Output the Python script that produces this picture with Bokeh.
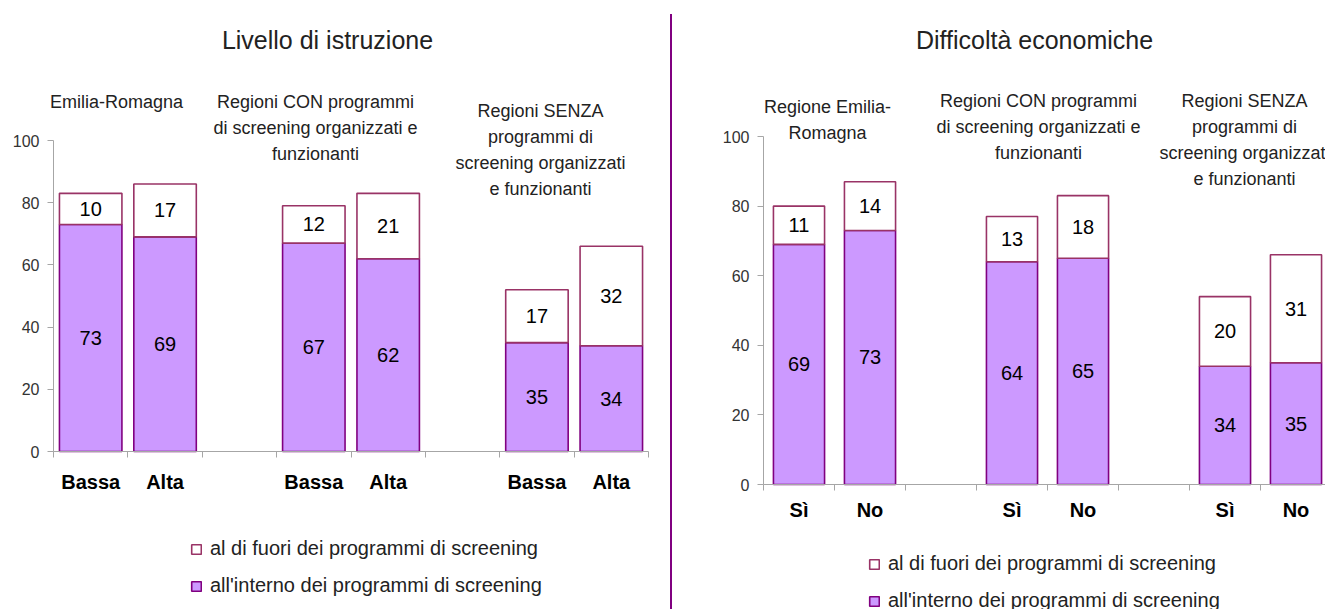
from bokeh.plotting import figure
from bokeh.models import (ColumnDataSource, Range1d, FixedTicker, LabelSet, Label,
                          Legend, LegendItem, Div, LinearAxis)
from bokeh.layouts import row
from bokeh.embed import file_html
from bokeh.resources import INLINE
from bokeh.core.properties import value

# ---------------- data ----------------
edu_cats = ["Bassa", "Alta", "Bassa", "Alta", "Bassa", "Alta"]
edu_inside = [73, 69, 67, 62, 35, 34]
edu_outside = [10, 17, 12, 21, 17, 32]

eco_cats = ["Sì", "No", "Sì", "No", "Sì", "No"]
eco_inside = [69, 73, 64, 65, 34, 35]
eco_outside = [11, 14, 13, 18, 20, 31]

y_ticks = [0, 20, 40, 60, 80, 100]
legend_labels = ["al di fuori dei programmi di screening",
                 "all'interno dei programmi di screening"]

edu_title = "Livello di istruzione"
eco_title = "Difficoltà economiche"
edu_groups = [["Emilia-Romagna"],
              ["Regioni CON programmi", "di screening organizzati e", "funzionanti"],
              ["Regioni SENZA", "programmi di", "screening organizzati", "e funzionanti"]]
eco_groups = [["Regione Emilia-", "Romagna"],
              ["Regioni CON programmi", "di screening organizzati e", "funzionanti"],
              ["Regioni SENZA", "programmi di", "screening organizzati", "e funzionanti"]]

FONT = "Liberation Sans"
TXT = "#222222"
IN_FILL, IN_LINE = "#CC99FF", "#800080"
OUT_FILL, OUT_LINE = "#FFFFFF", "#993366"
AX = "#a6a6a6"
H = 609


def slots(n):
    # two bars per group, one empty slot between groups
    return [3 * (i // 2) + i % 2 + 0.5 for i in range(n)]


def make_chart(cats, vin, vout, width, x0, xu, y0, yu, bar_w, title, title_px,
               groups, group_px, legend_px, cat_standoff):
    # x0/y0: pixel of data origin inside the canvas, xu/yu: pixels per unit
    def dx(px):
        return (px - x0) / xu

    def dy(py):
        return (y0 - py) / yu

    p = figure(width=width, height=H, output_backend="svg", toolbar_location=None,
               title=None, x_axis_location=None, y_axis_location=None,
               x_range=Range1d(dx(0), dx(width)), y_range=Range1d(dy(H), dy(0)),
               min_border=0)
    p.outline_line_color = None
    p.grid.visible = False
    p.background_fill_color = "white"
    p.border_fill_color = "white"

    xs = slots(len(cats))
    tops = [a + b for a, b in zip(vin, vout)]
    src = ColumnDataSource(dict(x=xs, vin=vin, top=tops,
                                ymid_in=[v / 2 for v in vin],
                                ymid_out=[a + b / 2 for a, b in zip(vin, vout)],
                                tin=[str(v) for v in vin], tout=[str(v) for v in vout]))
    r_in = p.vbar(x="x", width=bar_w, bottom=0, top="vin", source=src,
                  fill_color=IN_FILL, line_color=IN_LINE, line_width=1.6)
    r_out = p.vbar(x="x", width=bar_w, bottom="vin", top="top", source=src,
                   fill_color=OUT_FILL, line_color=OUT_LINE, line_width=1.6)

    for col_y, col_t in (("ymid_in", "tin"), ("ymid_out", "tout")):
        p.add_layout(LabelSet(x="x", y=col_y, text=col_t, source=src,
                              text_align="center", text_baseline="middle",
                              text_font=value(FONT), text_font_size="20px",
                              text_color="black"))

    nslots = 3 * (len(cats) // 2) - 1
    # y axis
    ya = LinearAxis(fixed_location=0, bounds=(0, 100), ticker=FixedTicker(ticks=y_ticks))
    ya.minor_tick_line_color = None
    ya.major_tick_out = 6
    ya.major_tick_in = 0
    ya.axis_line_color = AX
    ya.major_tick_line_color = AX
    ya.major_label_text_font = FONT
    ya.major_label_text_font_size = "16px"
    ya.major_label_text_color = "#333333"
    ya.major_label_standoff = 8
    p.add_layout(ya, "left")

    # x axis: labels at bar centres, ticks at slot boundaries
    xa = LinearAxis(fixed_location=0, bounds=(0, nslots),
                    ticker=FixedTicker(ticks=xs, minor_ticks=list(range(0, nslots + 1))))
    xa.major_label_overrides = {x: c for x, c in zip(xs, cats)}
    xa.major_tick_out = 0
    xa.major_tick_in = 0
    xa.minor_tick_out = 6
    xa.minor_tick_in = 0
    xa.minor_tick_line_color = AX
    xa.axis_line_color = AX
    xa.major_label_text_font = FONT
    xa.major_label_text_font_size = "20px"
    xa.major_label_text_font_style = "bold"
    xa.major_label_text_color = "black"
    xa.major_label_standoff = cat_standoff
    p.add_layout(xa, "below")

    p.add_layout(Label(x=dx(title_px[0]), y=dy(title_px[1]), text=title,
                       text_align="center", text_baseline="middle",
                       text_font=FONT, text_font_size="25px", text_color=TXT))
    for lines, (gx, gy, step) in zip(groups, group_px):
        for k, txt in enumerate(lines):
            p.add_layout(Label(x=dx(gx), y=dy(gy + k * step), text=txt,
                               text_align="center", text_baseline="middle",
                               text_font=FONT, text_font_size="18px", text_color=TXT))

    leg = Legend(items=[LegendItem(label=legend_labels[0], renderers=[r_out]),
                        LegendItem(label=legend_labels[1], renderers=[r_in])],
                 location=legend_px)
    leg.glyph_width = 12
    leg.glyph_height = 12
    leg.label_height = 25
    leg.spacing = 12
    leg.padding = 0
    leg.margin = 0
    leg.label_standoff = 8
    leg.border_line_color = None
    leg.background_fill_alpha = 0
    leg.label_text_font = FONT
    leg.label_text_font_size = "20px"
    leg.label_text_color = TXT
    p.add_layout(leg)
    return p


left = make_chart(edu_cats, edu_inside, edu_outside, width=670,
                  x0=53, xu=74.375, y0=451, yu=3.11, bar_w=0.84,
                  title=edu_title, title_px=(327, 39), groups=edu_groups,
                  group_px=[(116, 101, 26), (315, 101, 26), (540, 110, 26)],
                  legend_px=(190, 11), cat_standoff=13)
right = make_chart(eco_cats, eco_inside, eco_outside, width=653,
                   x0=91, xu=71, y0=484, yu=3.48, bar_w=0.72,
                   title=eco_title, title_px=(362, 39), groups=eco_groups,
                   group_px=[(155, 106, 26), (366, 100, 26), (572, 100, 26)],
                   legend_px=(196, -4), cat_standoff=8)

sep = Div(text="", width=2, height=H - 14, margin=(14, 0, 0, 0),
          styles={"background-color": "#800080"})

layout = row(left, sep, right, spacing=0)
open("out.html", "w").write(file_html(layout, INLINE))
